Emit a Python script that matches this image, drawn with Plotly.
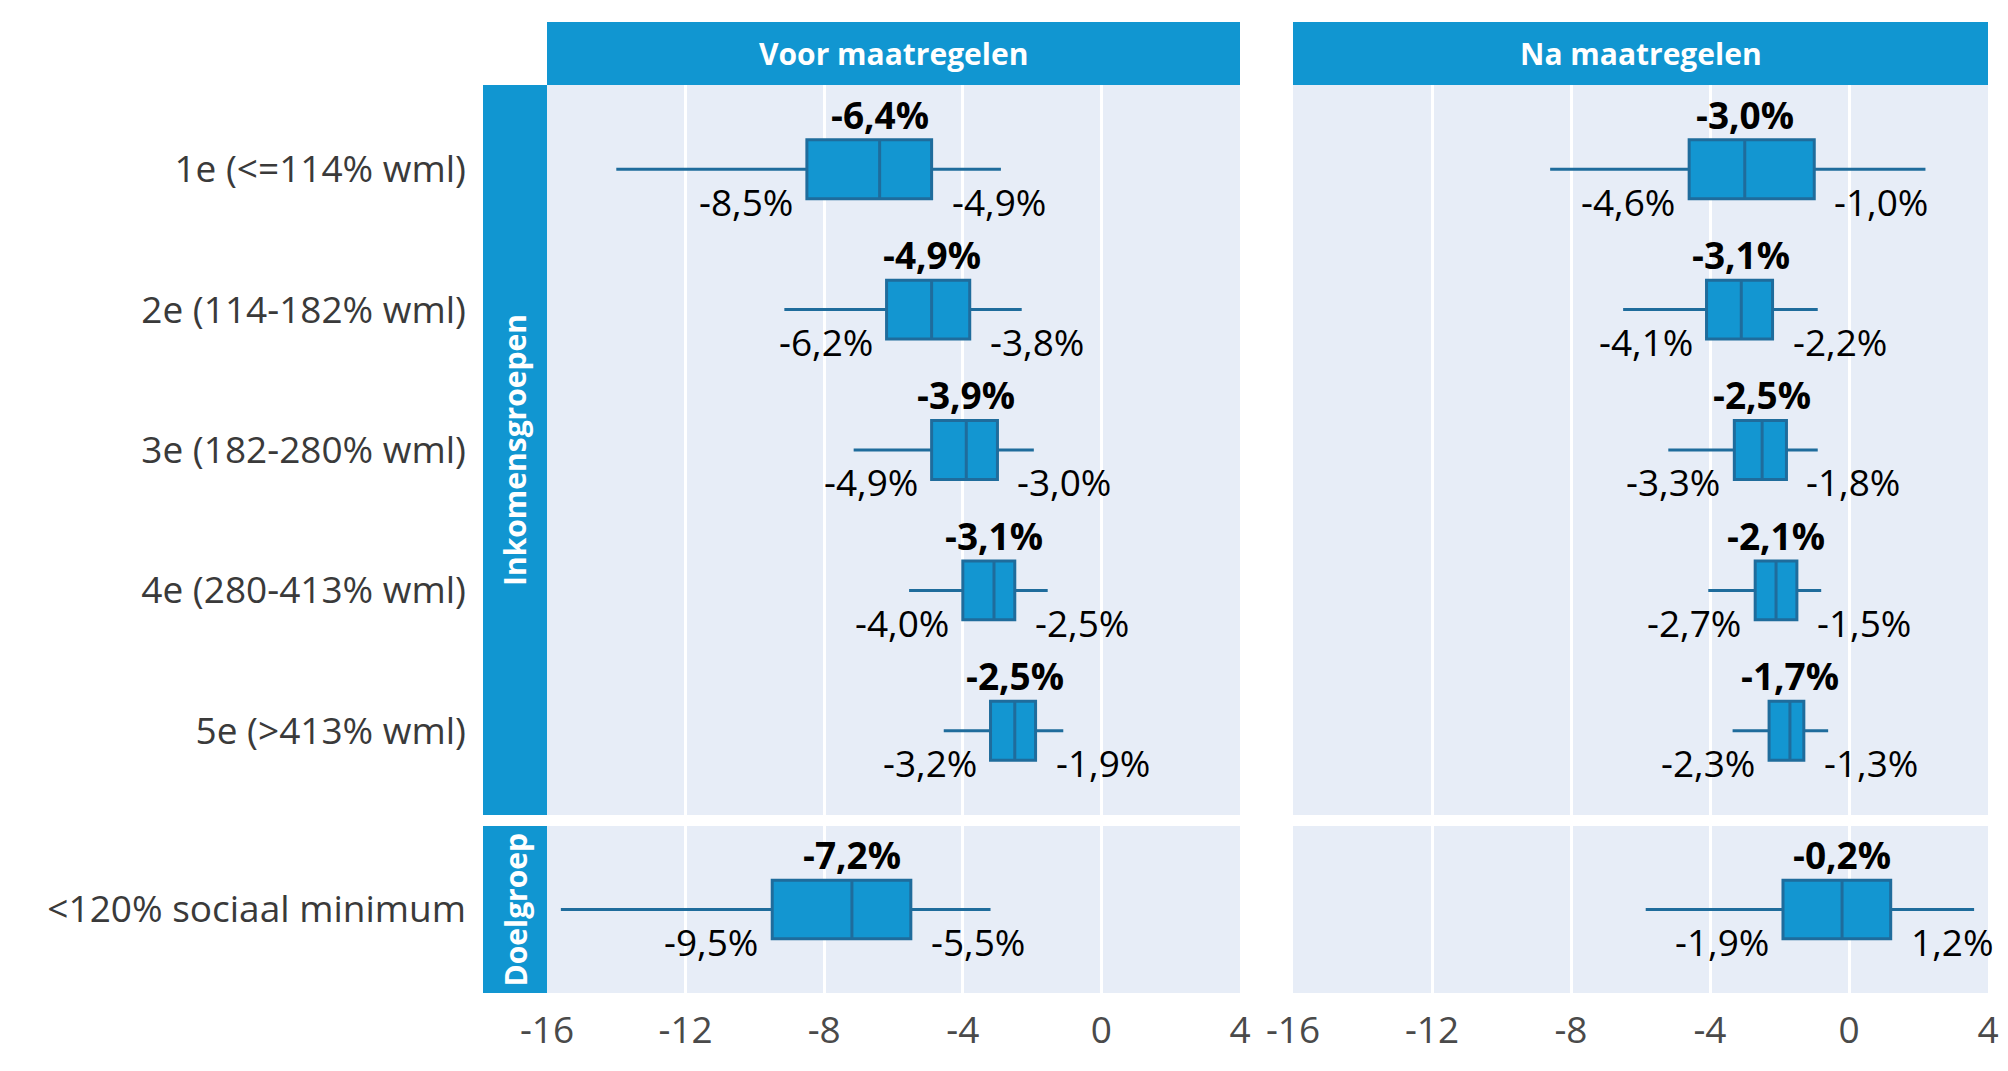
import plotly.graph_objects as go
from plotly.subplots import make_subplots

# ---- data ----
income_groups = ["1e (<=114% wml)", "2e (114-182% wml)", "3e (182-280% wml)",
                 "4e (280-413% wml)", "5e (>413% wml)"]
target_group = ["<120% sociaal minimum"]
panels = ["Voor maatregelen", "Na maatregelen"]

# Voor maatregelen - income groups
voor_low = [-14.0, -9.15, -7.15, -5.55, -4.55]
voor_q1 = [-8.5, -6.2, -4.9, -4.0, -3.2]
voor_med = [-6.4, -4.9, -3.9, -3.1, -2.5]
voor_q3 = [-4.9, -3.8, -3.0, -2.5, -1.9]
voor_high = [-2.9, -2.3, -1.95, -1.55, -1.1]
# Na maatregelen - income groups
na_low = [-8.6, -6.5, -5.2, -4.05, -3.35]
na_q1 = [-4.6, -4.1, -3.3, -2.7, -2.3]
na_med = [-3.0, -3.1, -2.5, -2.1, -1.7]
na_q3 = [-1.0, -2.2, -1.8, -1.5, -1.3]
na_high = [2.2, -0.9, -0.9, -0.8, -0.6]
# Doelgroep
dg_voor_low, dg_voor_q1, dg_voor_med, dg_voor_q3, dg_voor_high = [-15.6], [-9.5], [-7.2], [-5.5], [-3.2]
dg_na_low, dg_na_q1, dg_na_med, dg_na_q3, dg_na_high = [-5.85], [-1.9], [-0.2], [1.2], [3.6]

x_ticks = [-16, -12, -8, -4, 0, 4]

# ---- style ----
W, H = 2008, 1071
FONT = "Open Sans"
FILL = "#1396d1"
LINE = "#1f6c9c"
STRIP = "#1196d1"
PANEL_BG = "#e7edf7"
TXT = "#3a3a3a"
LBL = 37

def px_x(p):
    return p / W

def px_y(p):
    return 1 - p / H

fig = make_subplots(rows=2, cols=2)

def fmt(v):
    return ("%.1f" % v).replace(".", ",") + "%"

def add_box(row, col, cats, low, q1, med, q3, high):
    fig.add_trace(go.Box(
        y=cats, q1=q1, median=med, q3=q3, lowerfence=low, upperfence=high,
        orientation="h", fillcolor=FILL, line=dict(color=LINE, width=3),
        whiskerwidth=0, width=0.42, boxpoints=False, showlegend=False,
        hoverinfo="skip"), row=row, col=col)
    idx = (row - 1) * 2 + col
    xr = "x" if idx == 1 else "x%d" % idx
    yr = "y" if idx == 1 else "y%d" % idx
    for c, a, m, b in zip(cats, q1, med, q3):
        fig.add_annotation(x=m, y=c, xref=xr, yref=yr, text="<b>%s</b>" % fmt(m),
                           showarrow=False, yshift=55, xanchor="center", yanchor="middle",
                           font=dict(family=FONT, size=LBL, color="#000000"))
        fig.add_annotation(x=a, y=c, xref=xr, yref=yr, text=fmt(a),
                           showarrow=False, yshift=-32, xshift=-12, xanchor="right", yanchor="middle",
                           font=dict(family=FONT, size=LBL, color="#000000"))
        fig.add_annotation(x=b, y=c, xref=xr, yref=yr, text=fmt(b),
                           showarrow=False, yshift=-32, xshift=18, xanchor="left", yanchor="middle",
                           font=dict(family=FONT, size=LBL, color="#000000"))

add_box(1, 1, income_groups, voor_low, voor_q1, voor_med, voor_q3, voor_high)
add_box(1, 2, income_groups, na_low, na_q1, na_med, na_q3, na_high)
add_box(2, 1, target_group, dg_voor_low, dg_voor_q1, dg_voor_med, dg_voor_q3, dg_voor_high)
add_box(2, 2, target_group, dg_na_low, dg_na_q1, dg_na_med, dg_na_q3, dg_na_high)

left_dom = [px_x(547), px_x(1240)]
right_dom = [px_x(1293), px_x(1988)]
top_dom = [px_y(815), px_y(85)]
bot_dom = [px_y(993), px_y(826)]

xcommon = dict(range=[-16, 4], tickvals=x_ticks, ticktext=[str(t) for t in x_ticks],
               showgrid=True, gridcolor="white", gridwidth=3, zeroline=False,
               showline=False, ticks="", fixedrange=True, automargin=False,
               tickfont=dict(family=FONT, size=37, color="#4a4a4a"))
fig.update_layout(
    xaxis=dict(domain=left_dom, showticklabels=False, **xcommon),
    xaxis2=dict(domain=right_dom, showticklabels=False, **xcommon),
    xaxis3=dict(domain=left_dom, showticklabels=True, ticklabelstandoff=12, **xcommon),
    xaxis4=dict(domain=right_dom, showticklabels=True, ticklabelstandoff=12, **xcommon),
)
ycommon = dict(showgrid=False, zeroline=False, showline=False, ticks="", automargin=False,
               tickfont=dict(family=FONT, size=37, color=TXT), fixedrange=True)
fig.update_layout(
    yaxis=dict(domain=top_dom, range=[4.6, -0.6], type="category",
               ticklabelstandoff=80, **ycommon),
    yaxis2=dict(domain=top_dom, range=[4.6, -0.6], type="category",
                showticklabels=False, **ycommon),
    yaxis3=dict(domain=bot_dom, range=[0.6, -0.6], type="category",
                ticklabelstandoff=80, **ycommon),
    yaxis4=dict(domain=bot_dom, range=[0.6, -0.6], type="category",
                showticklabels=False, **ycommon),
)

shapes = []
# panel backgrounds
for xd in (left_dom, right_dom):
    for yd in (top_dom, bot_dom):
        shapes.append(dict(type="rect", xref="paper", yref="paper", x0=xd[0], x1=xd[1],
                           y0=yd[0], y1=yd[1], fillcolor=PANEL_BG, line=dict(width=0),
                           layer="below"))
# top strips
for xd, name in zip((left_dom, right_dom), panels):
    shapes.append(dict(type="rect", xref="paper", yref="paper", x0=xd[0], x1=xd[1],
                       y0=px_y(85), y1=px_y(22), fillcolor=STRIP, line=dict(width=0)))
    fig.add_annotation(x=(xd[0] + xd[1]) / 2, y=(px_y(85) + px_y(22)) / 2, xref="paper",
                       yref="paper", text="<b>%s</b>" % name, showarrow=False,
                       xanchor="center", yanchor="middle",
                       font=dict(family=FONT, size=30, color="white"))
# row strips
for yd, name in ((top_dom, "Inkomensgroepen"), (bot_dom, "Doelgroep")):
    shapes.append(dict(type="rect", xref="paper", yref="paper", x0=px_x(483), x1=px_x(547),
                       y0=yd[0], y1=yd[1], fillcolor=STRIP, line=dict(width=0)))
    fig.add_annotation(x=px_x(515), y=(yd[0] + yd[1]) / 2, xref="paper", yref="paper",
                       text="<b>%s</b>" % name, showarrow=False, textangle=-90,
                       xanchor="center", yanchor="middle",
                       font=dict(family=FONT, size=30, color="white"))

fig.update_layout(shapes=shapes, width=W, height=H,
                  margin=dict(l=0, r=0, t=0, b=0, autoexpand=False),
                  paper_bgcolor="white", plot_bgcolor=PANEL_BG,
                  font=dict(family=FONT))

fig.write_html("out.html", config={"displayModeBar": False},
               post_script="document.body.style.margin='0';")
